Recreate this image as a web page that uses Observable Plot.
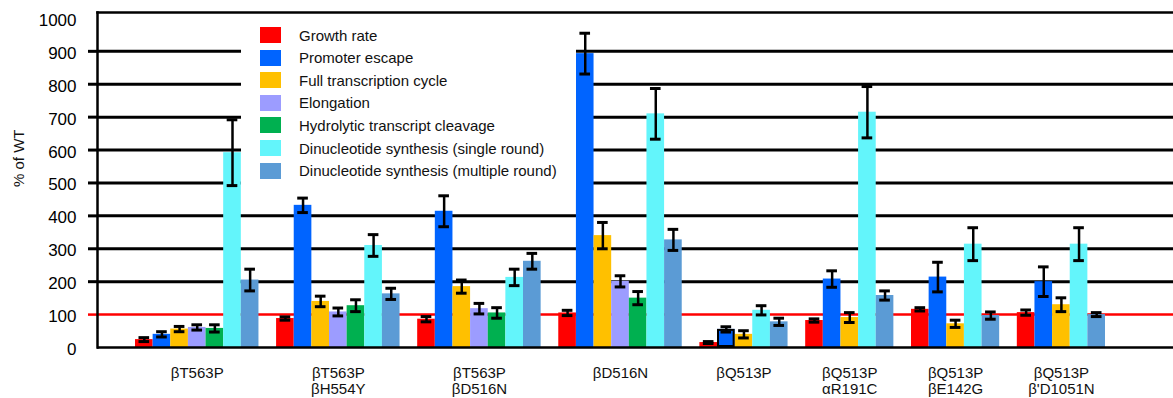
<!DOCTYPE html>
<html><head><meta charset="utf-8">
<script src="https://cdn.jsdelivr.net/npm/d3@7"></script>
<script src="https://cdn.jsdelivr.net/npm/@observablehq/plot@0.6"></script>
<style>
body{margin:0;background:#fff;}
#wrap{position:relative;width:1173px;height:398px;font-family:"Liberation Sans",Arial,sans-serif;}
#legend{position:absolute;left:241px;top:20px;width:335px;height:170px;background:#fff;}
.item{position:absolute;left:19px;height:17px;display:flex;align-items:center;font-size:15px;color:#111;white-space:nowrap}
.sw{width:21px;height:16px;margin-right:18px;flex:none}
</style></head><body><div id="wrap"><div id="chart"></div><div id="legend"></div></div>
<script>
const groups = ["βT563P", "βT563P\nβH554Y", "βT563P\nβD516N", "βD516N", "βQ513P", "βQ513P\nαR191C", "βQ513P\nβE142G", "βQ513P\nβ'D1051N"];
const series = ["Growth rate", "Promoter escape", "Full transcription cycle", "Elongation", "Hydrolytic transcript cleavage", "Dinucleotide synthesis (single round)", "Dinucleotide synthesis (multiple round)"];
const colors = ["#ff0000", "#0064ff", "#ffc000", "#9c9cff", "#00b050", "#63f5fb", "#5b9bd5"];

const growth      = [24, 88, 86, 105, 15, 82, 116, 106];
const growthErr   = [6, 5, 8, 8, 3, 5, 5, 8];
const promoter    = [40, 432, 414, 893, 55, 208, 214, 200];
const promoterErr = [8, 22, 47, 62, 8, 25, 45, 45];
const fullCycle   = [56, 140, 185, 340, 40, 91, 72, 130];
const fullErr     = [8, 16, 20, 40, 11, 15, 11, 21];
const elongation  = [61, 108, 118, 201, null, null, null, null];
const elongErr    = [8, 12, 16, 17, null, null, null, null];
const hydrolytic  = [58, 127, 105, 150, null, null, null, null];
const hydroErr    = [11, 18, 16, 20, null, null, null, null];
const dinucSingle = [592, 310, 213, 710, 113, 715, 314, 314];
const singleErr   = [100, 33, 25, 77, 14, 78, 50, 50];
const dinucMulti  = [205, 163, 262, 327, 78, 158, 97, 100];
const multiErr    = [33, 17, 24, 32, 11, 14, 11, 6];

const yTicks = [0, 100, 200, 300, 400, 500, 600, 700, 800, 900, 1000];
const gridValues = [200, 300, 400, 500, 600, 700, 800, 900];
const refValue = [100];
const yLabel = "% of WT";

const valueTable = [growth, promoter, fullCycle, elongation, hydrolytic, dinucSingle, dinucMulti];
const errTable = [growthErr, promoterErr, fullErr, elongErr, hydroErr, singleErr, multiErr];

const rows = [];
const xDomain = [];
const labelRows = [];
groups.forEach((g, gi) => {
  const keys = [];
  series.forEach((s, si) => {
    const v = valueTable[si][gi];
    if (v == null) return;
    const key = gi + "|" + si;
    keys.push(key);
    xDomain.push(key);
    rows.push({group: g, gi, series: s, si, value: v, err: errTable[si][gi], key});
  });
  labelRows.push({label: g, key: keys[Math.floor(keys.length / 2)]});
  if (gi < groups.length - 1) xDomain.push("gap" + gi);
});

const outlined = d => d.group === "βQ513P" && d.series === "Promoter escape";

const chart = Plot.plot({
  width: 1173, height: 398,
  marginLeft: 97, marginRight: 0, marginTop: 12, marginBottom: 51,
  style: {fontFamily: "'Liberation Sans', Arial, sans-serif", fontSize: "15px", color: "black", background: "transparent", overflow: "visible"},
  x: {type: "band", domain: xDomain, range: [135, 1105], padding: 0, axis: null},
  y: {domain: [0, 1018]},
  color: {domain: series, range: colors},
  marks: [
    Plot.ruleY(gridValues, {stroke: "black", strokeWidth: 3}),
    Plot.ruleY(refValue, {stroke: "#ff0000", strokeWidth: 2.5}),
    Plot.axisY({ticks: gridValues, tickSize: 9, stroke: "black", strokeWidth: 3, tickFormat: () => "", label: null}),
    Plot.axisY({ticks: refValue, tickSize: 9, stroke: "#ff0000", strokeWidth: 2.5, tickFormat: () => "", label: null}),
    Plot.axisY({ticks: yTicks, tickSize: 0, tickPadding: 21, fontSize: 17, dy: 2, tickFormat: d => String(d), label: null}),
    Plot.barY(rows, {x: "key", y: "value", fill: "series"}),
    Plot.barY(rows.filter(outlined), {x: "key", y: "value", fill: "series", stroke: "black", strokeWidth: 2, inset: 1}),
    Plot.ruleX(rows, {x: "key", y1: d => d.value - d.err, y2: d => d.value + d.err, stroke: "black", strokeWidth: 2.5}),
    Plot.tickY(rows, {x: "key", y: d => d.value + d.err, stroke: "black", strokeWidth: 3, insetLeft: 3.5, insetRight: 3.5}),
    Plot.tickY(rows, {x: "key", y: d => d.value - d.err, stroke: "black", strokeWidth: 3, insetLeft: 3.5, insetRight: 3.5}),
    Plot.ruleY([0], {stroke: "black", strokeWidth: 2.5}),
    Plot.frame({anchor: "left", stroke: "black", strokeWidth: 2.5}),
    Plot.frame({anchor: "top", stroke: "black", strokeWidth: 2.5}),
    Plot.text(labelRows, {x: "key", text: "label", frameAnchor: "bottom", lineAnchor: "top", dy: 18, lineHeight: 1.13, fontSize: 15, fill: "#111"}),
    Plot.text([yLabel], {text: d => d, frameAnchor: "left", rotate: -90, dx: -78, dy: 7, fontSize: 15, fill: "#111"})
  ]
});
document.getElementById("chart").appendChild(chart);

const legend = document.getElementById("legend");
series.forEach((s, i) => {
  const item = document.createElement("div");
  item.className = "item";
  item.style.top = (35 + i * 22.6 - 8.5 - 20) + "px";
  const sw = document.createElement("span");
  sw.className = "sw";
  sw.style.background = colors[i];
  const t = document.createElement("span");
  t.textContent = s;
  item.appendChild(sw);
  item.appendChild(t);
  legend.appendChild(item);
});
</script>
</body></html>
